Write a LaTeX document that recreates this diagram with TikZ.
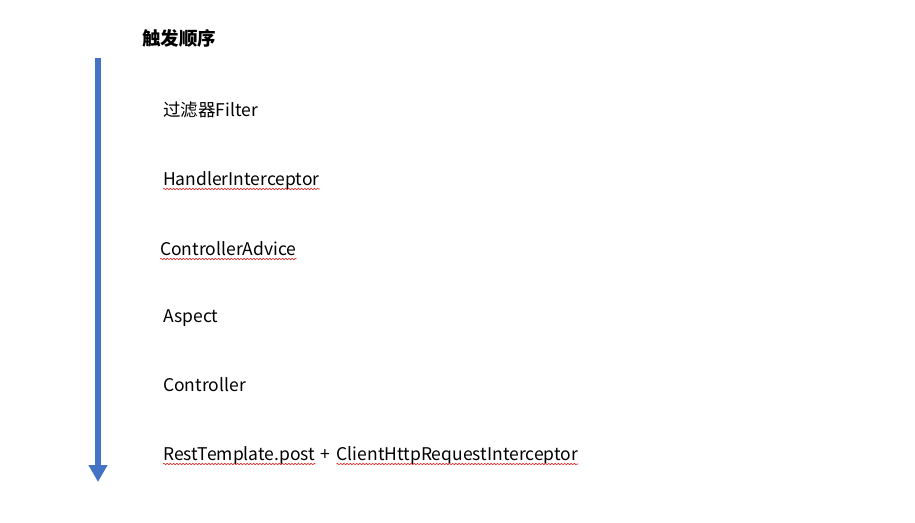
\documentclass[tikz,border=0pt]{standalone}
\usepackage{fontspec}
\setmainfont{Noto Sans CJK SC}
\usepackage{xcolor}
\usetikzlibrary{arrows.meta,positioning,decorations.pathmorphing}
\definecolor{arrowblue}{RGB}{68,114,196}
\definecolor{wavered}{RGB}{230,40,40}
\tikzstyle{lbl}=[anchor=base west,inner sep=0pt,font=\fontsize{17.5}{20}\selectfont]
\tikzstyle{squiggle}=[wavered,line width=0.6pt,decorate,decoration={snake,segment length=3.2pt,amplitude=0.8pt}]

\begin{document}
\begin{tikzpicture}[x=1pt,y=-1pt]
\useasboundingbox (0,0) rectangle (915,522);
\node[font=\fontsize{18.5}{20}\selectfont\bfseries, anchor=west, inner sep=0pt] (title) at (142,38) {触发顺序};
\coordinate (top) at (98,58);
\coordinate (bottom) at (98,482);
\draw[arrowblue, line width=6pt, -{Triangle[width=18pt,length=17pt]}] (top) -- (bottom);
\node[lbl] (filter) at (163,116) {过滤器Filter};
\node[lbl] (handler) at (163,185) {HandlerInterceptor};
\node[lbl] (advice) at (160,255) {ControllerAdvice};
\node[lbl] (aspect) at (163,322) {Aspect};
\node[lbl] (ctrl) at (163,391) {Controller};
\node[lbl] (rest) at (163,460) {RestTemplate.post};
\node[lbl] (plus) at ([xshift=5pt]rest.base east) {+};
\node[lbl] (client) at ([xshift=6pt]plus.base east) {ClientHttpRequestInterceptor};
% spell check marks
\draw[squiggle] ([yshift=-4pt]handler.base west) -- ([yshift=-4pt]handler.base east);
\draw[squiggle] ([yshift=-4pt]advice.base west) -- ([yshift=-4pt]advice.base east);
\draw[squiggle] ([yshift=-4pt]rest.base west) -- ([yshift=-4pt]rest.base east);
\draw[squiggle] ([yshift=-4pt]client.base west) -- ([yshift=-4pt]client.base east);
\end{tikzpicture}
\end{document}
